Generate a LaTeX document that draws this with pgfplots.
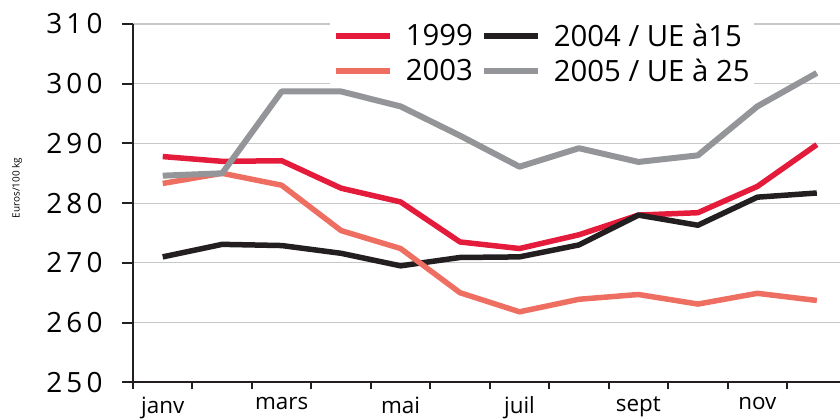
\documentclass[border=0pt]{standalone}
\usepackage{fontspec}
\setmainfont{Open Sans}
\newfontfamily\spaced{Open Sans}[LetterSpace=15]
\usepackage{pgfplots}
\pgfplotsset{compat=1.18}
\definecolor{cRed}{HTML}{E41B3A}
\definecolor{cSalmon}{HTML}{EE6F62}
\definecolor{cBlack}{HTML}{231F20}
\definecolor{cGray}{HTML}{939598}
\definecolor{cGrid}{HTML}{C8C8C8}
\begin{document}
\begin{tikzpicture}
\begin{axis}[
  scale only axis, width=707bp, height=358.3bp,
  xmin=-0.5, xmax=11.39, ymin=250, ymax=310,
  axis x line=bottom, axis y line=left,
  axis line style={-, line width=2bp, color=cBlack},
  ytick={250,260,...,310}, ymajorgrids,
  grid style={color=cGrid, line width=1.2bp},
  tick align=outside, major tick length=11bp, minor tick length=7bp,
  tick style={line width=2bp, color=cBlack},
  xtick={0,2,4,6,8,10},
  xticklabels={janv,mars,mai,juil,sept,nov},
  minor xtick={-0.5,0.5,...,10.5},
  every major x tick/.append style={draw=none},
  /pgf/number format/assume math mode=true,
  yticklabel style={font=\spaced\fontsize{28}{32}\selectfont, xshift=-16bp},
  xticklabel style={font=\fontsize{22.5}{26}\selectfont},
  ylabel={Euros/100 kg},
  ylabel style={font=\fontsize{10}{12}\selectfont, at={(axis description cs:-0.164,0.542)}, anchor=center},
  legend columns=2,
  legend cell align=left,
  legend style={draw=none, fill=white, at={(axis description cs:0.279,1.012)}, anchor=north west,
    font=\fontsize{29.4}{34}\selectfont, /tikz/every even column/.append style={column sep=6bp},
    row sep=7bp},
  legend image code/.code={\draw[#1] (0bp,0bp) -- (54bp,0bp); \path (65bp,0bp);},
  every axis plot/.append style={line width=5.5bp, line join=round},
]
\addplot[cRed] coordinates {(0,287.8) (1,287.0) (2,287.1) (3,282.5) (4,280.2) (5,273.5) (6,272.4) (7,274.7) (8,278.0) (9,278.4) (10,282.8) (11,289.8)};
\addlegendentry{1999}
\addplot[cBlack] coordinates {(0,271.0) (1,273.1) (2,272.9) (3,271.6) (4,269.5) (5,270.9) (6,271.0) (7,273.0) (8,278.0) (9,276.3) (10,281.0) (11,281.7)};
\addlegendentry{2004 / UE à15}
\addplot[cSalmon] coordinates {(0,283.3) (1,285.0) (2,283.0) (3,275.4) (4,272.4) (5,265.0) (6,261.8) (7,263.9) (8,264.7) (9,263.1) (10,264.9) (11,263.7)};
\addlegendentry{2003}
\addplot[cGray, line width=6bp] coordinates {(0,284.6) (1,285.0) (2,298.7) (3,298.7) (4,296.2) (5,291.3) (6,286.1) (7,289.2) (8,286.9) (9,288.0) (10,296.2) (11,301.8)};
\addlegendentry{2005 / UE à 25}
\end{axis}
\pgfresetboundingbox
\path[use as bounding box] ([xshift=-133bp,yshift=-36.7bp]current axis.south west) rectangle ([yshift=24bp]current axis.north east);
\end{tikzpicture}
\end{document}
